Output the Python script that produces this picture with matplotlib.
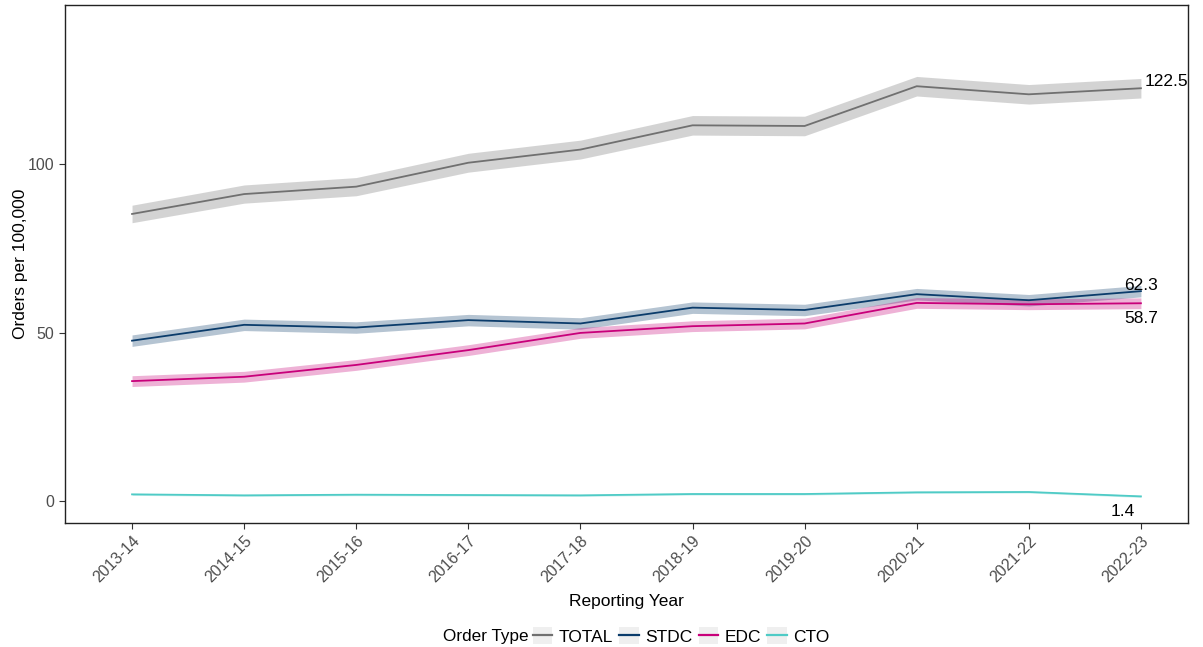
import matplotlib
matplotlib.use("Agg")
import matplotlib.pyplot as plt
import matplotlib.transforms as mtransforms
from matplotlib.lines import Line2D
from matplotlib.patches import Rectangle
from matplotlib.legend_handler import HandlerTuple

plt.rcParams['font.family'] = ['Liberation Sans', 'DejaVu Sans']

years = ["2013-14", "2014-15", "2015-16", "2016-17", "2017-18",
         "2018-19", "2019-20", "2020-21", "2021-22", "2022-23"]

# rates per 100,000
total = [85.2, 91.1, 93.3, 100.4, 104.3, 111.5, 111.3, 123.1, 120.7, 122.5]
total_lo = [82.6, 88.4, 90.6, 97.6, 101.5, 108.6, 108.4, 120.2, 117.8, 119.6]
total_hi = [87.8, 93.8, 96.0, 103.2, 107.1, 114.4, 114.2, 126.0, 123.6, 125.4]

stdc = [47.6, 52.3, 51.5, 53.7, 52.7, 57.4, 56.7, 61.4, 59.6, 62.3]
stdc_lo = [45.9, 50.6, 49.8, 52.0, 51.0, 55.7, 55.0, 59.7, 57.9, 60.6]
stdc_hi = [49.3, 54.0, 53.2, 55.4, 54.4, 59.1, 58.4, 63.1, 61.3, 64.0]

edc = [35.6, 36.9, 40.4, 44.8, 49.9, 51.9, 52.7, 58.8, 58.4, 58.7]
edc_lo = [34.0, 35.3, 38.8, 43.2, 48.3, 50.3, 51.1, 57.2, 56.8, 57.1]
edc_hi = [37.2, 38.5, 42.0, 46.4, 51.5, 53.5, 54.3, 60.4, 60.0, 60.3]

cto = [2.0, 1.7, 1.9, 1.8, 1.7, 2.1, 2.1, 2.6, 2.7, 1.4]
cto_lo = [1.7, 1.4, 1.6, 1.5, 1.4, 1.8, 1.8, 2.3, 2.4, 1.1]
cto_hi = [2.3, 2.0, 2.2, 2.1, 2.0, 2.4, 2.4, 2.9, 3.0, 1.7]

names = ["TOTAL", "STDC", "EDC", "CTO"]
colors = ["#707070", "#0B3C6B", "#C8007A", "#4FCBC6"]
series = [(total, total_lo, total_hi), (stdc, stdc_lo, stdc_hi),
          (edc, edc_lo, edc_hi), (cto, cto_lo, cto_hi)]

fig = plt.figure(figsize=(12.03, 6.47), dpi=100)
ax = fig.add_axes([65 / 1203, 1 - 523 / 647, (1188 - 65) / 1203, (523 - 5) / 647])

x = list(range(len(years)))
for (vals, lo, hi), col in zip(series, colors):
    ax.fill_between(x, lo, hi, color=col, alpha=0.3, linewidth=0)
for (vals, lo, hi), col in zip(series, colors):
    ax.plot(x, vals, color=col, lw=1.3)

# end labels
offsets = [((3, 1.5), 'left'), ((0, 1), 'center'), ((0, -14.5), 'center'), ((-13, -14), 'center')]
for (vals, lo, hi), (off, ha) in zip(series, offsets):
    ax.annotate(f"{vals[-1]:.1f}", xy=(x[-1], vals[-1]), xytext=off,
                textcoords='offset points', ha=ha, va='baseline', fontsize=12.5, color='black')

ax.set_xlim(-0.598, 9.42)
ax.set_ylim(-6.5, 147.2)
ax.set_xticks(x)
ax.set_xticklabels(years, rotation=45, ha='right', rotation_mode='anchor')
shift = mtransforms.ScaledTranslation(5 / 100, 0, fig.dpi_scale_trans)
for lab in ax.get_xticklabels():
    lab.set_transform(lab.get_transform() + shift)
ax.set_yticks([0, 50, 100])
ax.tick_params(axis='both', labelsize=11.5, labelcolor='#4D4D4D', color='#333333', length=4, width=0.8)
for s in ax.spines.values():
    s.set_color('#222222')
    s.set_linewidth(1.0)
ax.set_xlabel("Reporting Year", fontsize=12.5, labelpad=6)
ax.set_ylabel("Orders per 100,000", fontsize=12.5, labelpad=0)

# legend along the bottom
fig.text(443 / 1203, 1 - 636 / 647, "Order Type", fontsize=12.3, ha='left', va='center')
handles = [(Rectangle((0, 0), 1, 1, facecolor='#EFEFEF', edgecolor='none'),
            Line2D([], [], color=c, lw=1.6)) for c in colors]
fig.legend(handles, names, loc='center left', bbox_to_anchor=(533 / 1203, 1 - 636 / 647),
           ncol=4, frameon=False, fontsize=12.5, handlelength=1.1, handleheight=1.15,
           handletextpad=0.4, columnspacing=0.35, borderpad=0, borderaxespad=0,
           handler_map={tuple: HandlerTuple(ndivide=1, pad=0)})

fig.savefig("out.png", dpi=100)
